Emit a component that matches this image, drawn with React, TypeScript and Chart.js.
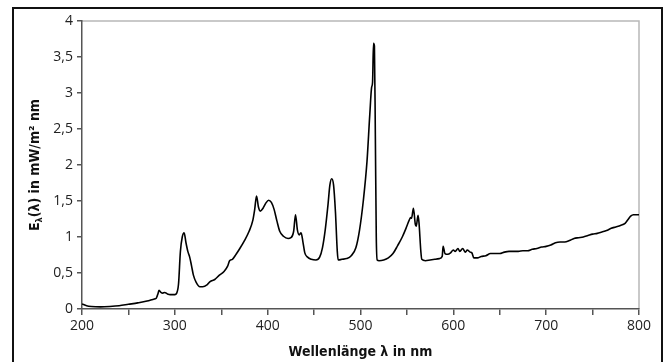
import React, { useEffect, useRef } from "react";
import { Chart, registerables } from "chart.js";

Chart.register(...registerables);

// Wavelength (nm) and spectral irradiance (mW/m² nm)
const wavelengths = [
  200, 205, 210, 220, 230, 240, 250, 260, 270, 278, 280, 282, 283, 285, 287, 289, 292, 295, 300, 302,
  304, 306, 308, 310, 312, 314, 316, 318, 320, 323, 327, 330, 335, 338, 343, 348, 353, 357, 359, 362,
  366, 370, 375, 380, 384, 386, 388, 390, 392, 395, 398, 401, 404, 407, 410, 413, 417, 422, 425, 428,
  430, 432, 434, 436, 438, 440, 443, 447, 452, 456, 459, 462, 465, 467, 469, 471, 473, 475, 476, 480,
  485, 490, 495, 499, 503, 507, 510, 512, 513, 514, 515, 516, 517, 518, 520, 525, 530, 535, 540, 545,
  549, 552, 554, 555, 557, 559, 560, 562, 563, 565, 566, 570, 575, 580, 585, 588, 589, 591, 594, 597,
  600, 602, 605, 607, 610, 613, 615, 618, 620, 622, 626, 630, 635, 640, 645, 650, 655, 660, 665, 670,
  675, 680, 685, 690, 695, 700, 705, 710, 715, 720, 725, 730, 735, 740, 745, 750, 755, 760, 765, 770,
  775, 780, 785, 788, 791, 794, 800,
];

const irradiance = [
  0.07, 0.045, 0.035, 0.03, 0.035, 0.045, 0.065, 0.085, 0.11, 0.14, 0.15, 0.22, 0.26, 0.23, 0.22, 0.23, 0.21, 0.2, 0.2, 0.22,
  0.35, 0.8, 1.0, 1.06, 0.92, 0.8, 0.72, 0.6, 0.47, 0.37, 0.31, 0.31, 0.34, 0.38, 0.41, 0.47, 0.52, 0.6, 0.67, 0.69,
  0.76, 0.84, 0.95, 1.08, 1.23, 1.38, 1.57, 1.42, 1.36, 1.4, 1.47, 1.51, 1.48, 1.38, 1.22, 1.08, 1.01, 0.98, 0.99, 1.08,
  1.31, 1.1, 1.03, 1.06, 0.93, 0.78, 0.72, 0.69, 0.68, 0.72, 0.85, 1.1, 1.45, 1.72, 1.81, 1.72, 1.35, 0.8, 0.68, 0.69,
  0.7, 0.74, 0.85, 1.1, 1.5, 2.05, 2.7, 3.08, 3.15, 3.69, 3.65, 2.4, 1.0, 0.68, 0.67, 0.68, 0.71, 0.77, 0.88, 1.0,
  1.12, 1.22, 1.27, 1.26, 1.4, 1.18, 1.15, 1.3, 1.2, 0.8, 0.69, 0.67, 0.68, 0.69, 0.7, 0.73, 0.87, 0.77, 0.76, 0.78,
  0.82, 0.8, 0.84, 0.8, 0.84, 0.79, 0.82, 0.79, 0.78, 0.71, 0.71, 0.73, 0.74, 0.77, 0.77, 0.77, 0.79, 0.8, 0.8, 0.8,
  0.81, 0.81, 0.83, 0.84, 0.86, 0.87, 0.89, 0.92, 0.93, 0.93, 0.95, 0.98, 0.99, 1.0, 1.02, 1.04, 1.05, 1.07, 1.09, 1.12,
  1.14, 1.16, 1.19, 1.24, 1.29, 1.31, 1.31,
];

const xLabelledTicks = [200, 300, 400, 500, 600, 700, 800];
const xTitle = "Wellenlänge λ in nm";
const yTitleMain = "E";
const yTitleSub = "λ";
const yTitleRest = "(λ) in mW/m² nm";

const tickFont = "'Open Sans', 'Noto Sans', sans-serif";
const titleFont = "'Liberation Sans Narrow', 'DejaVu Sans Condensed', 'Roboto', sans-serif";

const framePlugin = {
  id: "frameAndTitles",
  beforeDraw(chart: any) {
    const { ctx, chartArea, width, height } = chart;
    ctx.save();
    ctx.fillStyle = "#ffffff";
    ctx.fillRect(0, 0, width, height);
    // outer frame (open at the bottom)
    ctx.strokeStyle = "#111111";
    ctx.lineWidth = 2;
    ctx.beginPath();
    ctx.moveTo(13, height + 2);
    ctx.lineTo(13, 8);
    ctx.lineTo(662, 8);
    ctx.lineTo(662, height + 2);
    ctx.stroke();
    // light border on top and right of plot area
    ctx.strokeStyle = "#b8b8b8";
    ctx.lineWidth = 1.5;
    ctx.beginPath();
    ctx.moveTo(chartArea.left, chartArea.top);
    ctx.lineTo(chartArea.right, chartArea.top);
    ctx.lineTo(chartArea.right, chartArea.bottom);
    ctx.stroke();
    ctx.restore();
  },
  afterDraw(chart: any) {
    const { ctx, chartArea } = chart;
    ctx.save();
    ctx.fillStyle = "#111111";
    // x title
    ctx.font = `bold 14px ${titleFont}`;
    ctx.textAlign = "center";
    ctx.textBaseline = "middle";
    ctx.fillText(xTitle, (chartArea.left + chartArea.right) / 2, 352);
    // y title with subscript
    const cy = (chartArea.top + chartArea.bottom) / 2;
    ctx.translate(34, cy);
    ctx.rotate(-Math.PI / 2);
    ctx.textAlign = "left";
    ctx.textBaseline = "alphabetic";
    const big = `bold 14px ${titleFont}`;
    const small = `bold 9px ${titleFont}`;
    ctx.font = big;
    const wE = ctx.measureText(yTitleMain).width;
    const wR = ctx.measureText(yTitleRest).width;
    ctx.font = small;
    const wS = ctx.measureText(yTitleSub).width;
    const total = wE + wS + wR;
    let x = -total / 2;
    const base = 5;
    ctx.font = big;
    ctx.fillText(yTitleMain, x, base);
    x += wE;
    ctx.font = small;
    ctx.fillText(yTitleSub, x, base + 3);
    x += wS;
    ctx.font = big;
    ctx.fillText(yTitleRest, x, base);
    ctx.restore();
  },
};

export default function App() {
  const canvasRef = useRef<HTMLCanvasElement | null>(null);

  useEffect(() => {
    if (!canvasRef.current) return;
    const points = wavelengths.map((w, i) => ({ x: w, y: irradiance[i] }));
    const chart = new Chart(canvasRef.current, {
      type: "line",
      data: {
        datasets: [
          {
            data: points,
            borderColor: "#000000",
            borderWidth: 1.6,
            pointRadius: 0,
            fill: false,
            cubicInterpolationMode: "monotone",
          },
        ],
      },
      options: {
        animation: false,
        responsive: false,
        parsing: true,
        layout: { padding: { left: 0, right: 25, top: 21, bottom: 0 } },
        plugins: {
          legend: { display: false },
          tooltip: { enabled: false },
        },
        scales: {
          x: {
            type: "linear",
            min: 200,
            max: 800,
            afterFit: (scale: any) => {
              scale.height = 53;
            },
            border: { color: "#555555", width: 1.5 },
            grid: {
              drawOnChartArea: false,
              drawTicks: true,
              tickLength: 6,
              color: "#555555",
              lineWidth: 1.5,
            },
            ticks: {
              stepSize: 50,
              autoSkip: false,
              maxRotation: 0,
              padding: 3,
              color: "#222222",
              font: { family: tickFont, size: 14 },
              callback: (v: any) => (xLabelledTicks.includes(Number(v)) ? String(v) : ""),
            },
          },
          y: {
            type: "linear",
            min: 0,
            max: 4,
            afterFit: (scale: any) => {
              scale.width = 82;
            },
            border: { color: "#555555", width: 1.5 },
            grid: {
              drawOnChartArea: false,
              drawTicks: true,
              tickLength: 5,
              color: "#555555",
              lineWidth: 1.5,
            },
            ticks: {
              stepSize: 0.5,
              padding: 4,
              color: "#222222",
              font: { family: tickFont, size: 14 },
              callback: (v: any) => String(v).replace(".", ","),
            },
          },
        },
      },
      plugins: [framePlugin],
    });
    return () => chart.destroy();
  }, []);

  return (
    <div style={{ position: "fixed", left: 0, top: 0, width: 664, height: 362, background: "#fff" }}>
      <canvas ref={canvasRef} width={664} height={362} style={{ display: "block" }} />
    </div>
  );
}
